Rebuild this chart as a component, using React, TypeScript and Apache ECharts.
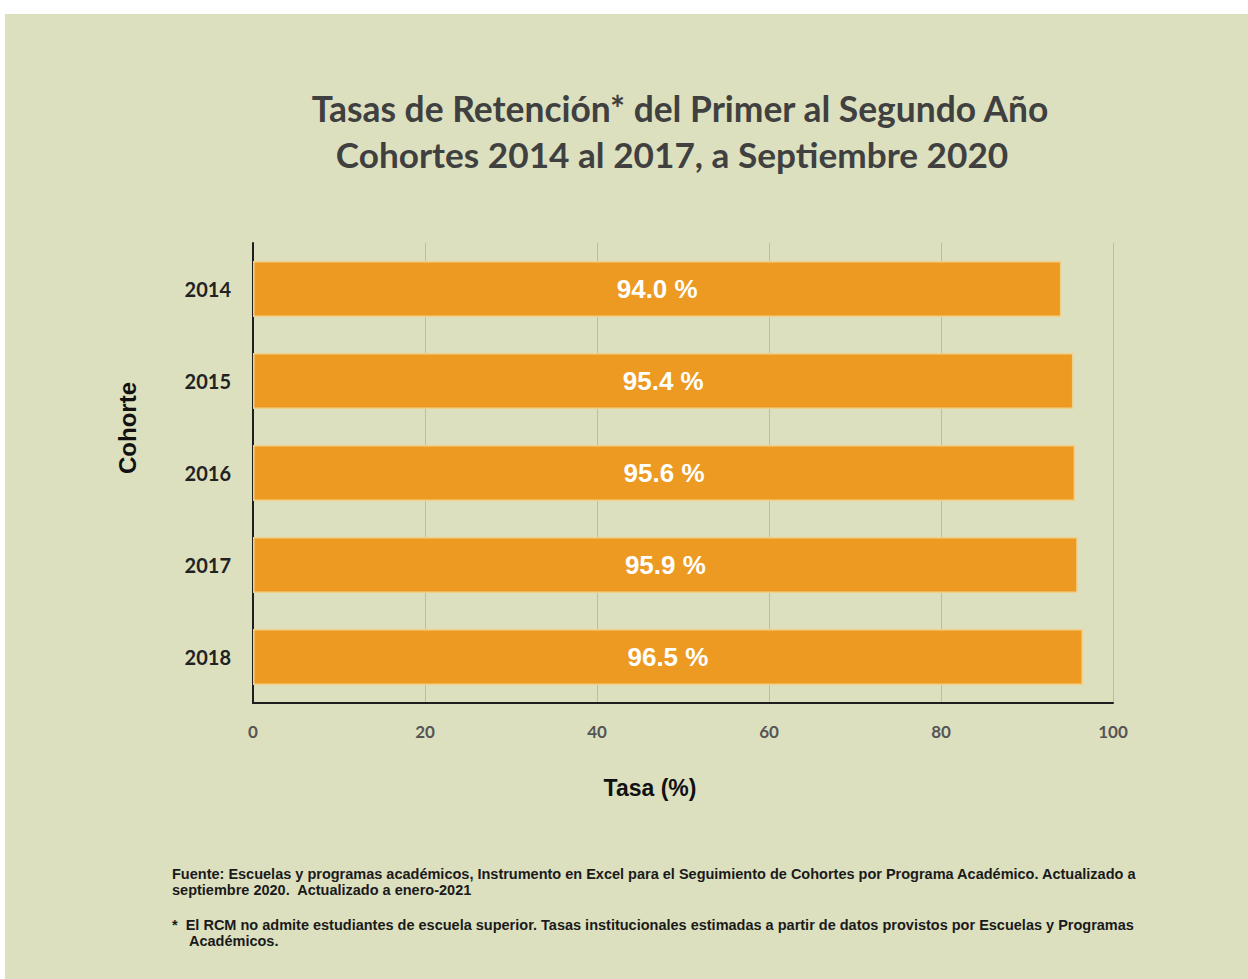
import React, { useEffect, useRef } from "react";
import * as echarts from "echarts";

const categories = ["2014", "2015", "2016", "2017", "2018"];
const rates = [94.0, 95.4, 95.6, 95.9, 96.5];
const xTicks = [0, 20, 40, 60, 80, 100];

const titleLines = [
  "Tasas de Retención* del Primer al Segundo Año",
  "Cohortes 2014 al 2017, a Septiembre 2020",
];
const yAxisName = "Cohorte";
const xAxisName = "Tasa (%)";
const footLines = [
  "Fuente: Escuelas y programas académicos, Instrumento en Excel para el Seguimiento de Cohortes por Programa Académico. Actualizado a",
  "septiembre 2020.  Actualizado a enero-2021",
];
const noteLines = [
  "*  El RCM no admite estudiantes de escuela superior. Tasas institucionales estimadas a partir de datos provistos por Escuelas y Programas",
  "Académicos.",
];

export default function App() {
  const ref = useRef<HTMLDivElement>(null);
  useEffect(() => {
    if (!ref.current) return;
    const chart = echarts.init(ref.current, null, { renderer: "svg" });
    const footFont = "'Liberation Sans Narrow', 'Arial Narrow', 'Liberation Sans', Arial, sans-serif";
    const footStyle = (text: string) => ({
      text,
      font: "bold 14.5px " + footFont,
      fill: "#1a1a1a",
      textAlign: "left",
      textVerticalAlign: "middle",
    });
    chart.setOption({
      animation: false,
      backgroundColor: "#ffffff",
      graphic: [
        {
          type: "rect",
          z: -10,
          shape: { x: 5, y: 14, width: 1243, height: 965 },
          style: { fill: "#dce0bf" },
        },
        {
          type: "text",
          x: 680,
          y: 108,
          style: {
            text: titleLines[0],
            font: "bold 35.4px Lato, 'Open Sans', sans-serif",
            fill: "#404040",
            textAlign: "center",
            textVerticalAlign: "middle",
          },
        },
        {
          type: "text",
          x: 672,
          y: 154,
          style: {
            text: titleLines[1],
            font: "bold 35.2px Lato, 'Open Sans', sans-serif",
            fill: "#404040",
            textAlign: "center",
            textVerticalAlign: "middle",
          },
        },
        {
          type: "text",
          x: 650,
          y: 788,
          style: {
            text: xAxisName,
            font: "bold 23px 'Liberation Sans', Arial, sans-serif",
            fill: "#111111",
            textAlign: "center",
            textVerticalAlign: "middle",
          },
        },
        {
          type: "text",
          x: 127,
          y: 428,
          rotation: Math.PI / 2,
          style: {
            text: yAxisName,
            font: "bold 24px 'Liberation Sans', Arial, sans-serif",
            fill: "#111111",
            textAlign: "center",
            textVerticalAlign: "middle",
          },
        },
        { type: "text", x: 172, y: 874, style: footStyle(footLines[0]) },
        { type: "text", x: 172, y: 890, style: footStyle(footLines[1]) },
        { type: "text", x: 172, y: 925, style: footStyle(noteLines[0]) },
        { type: "text", x: 189, y: 941, style: footStyle(noteLines[1]) },
      ],
      grid: { left: 253, right: 135, top: 243, bottom: 276, containLabel: false },
      xAxis: {
        type: "value",
        min: xTicks[0],
        max: xTicks[xTicks.length - 1],
        interval: xTicks[1] - xTicks[0],
        axisLine: { show: true, lineStyle: { color: "#1e1e1e", width: 2 } },
        axisTick: { show: false },
        splitLine: { show: true, lineStyle: { color: "#babda7", width: 1 } },
        axisLabel: {
          margin: 20,
          color: "#555555",
          fontFamily: "Lato, sans-serif",
          fontWeight: "bold",
          fontSize: 17,
        },
      },
      yAxis: {
        type: "category",
        inverse: true,
        data: categories,
        axisLine: { show: true, lineStyle: { color: "#1e1e1e", width: 2 } },
        axisTick: { show: false },
        splitLine: { show: false },
        axisLabel: {
          margin: 22,
          color: "#222222",
          fontFamily: "Lato, sans-serif",
          fontWeight: "bold",
          fontSize: 20,
        },
      },
      series: [
        {
          type: "bar",
          data: rates,
          barCategoryGap: "39%",
          itemStyle: { color: "#ec9a22", borderColor: "#f3d08a", borderWidth: 1.5 },
          label: {
            show: true,
            position: "inside",
            formatter: (p: any) => p.value.toFixed(1) + " %",
            color: "#ffffff",
            fontFamily: "'Liberation Sans', Arial, sans-serif",
            fontWeight: "bold",
            fontSize: 26,
          },
        },
      ],
    });
    return () => chart.dispose();
  }, []);
  return (
    <div
      ref={ref}
      style={{ position: "absolute", left: 0, top: 0, width: 1248, height: 979 }}
    />
  );
}
